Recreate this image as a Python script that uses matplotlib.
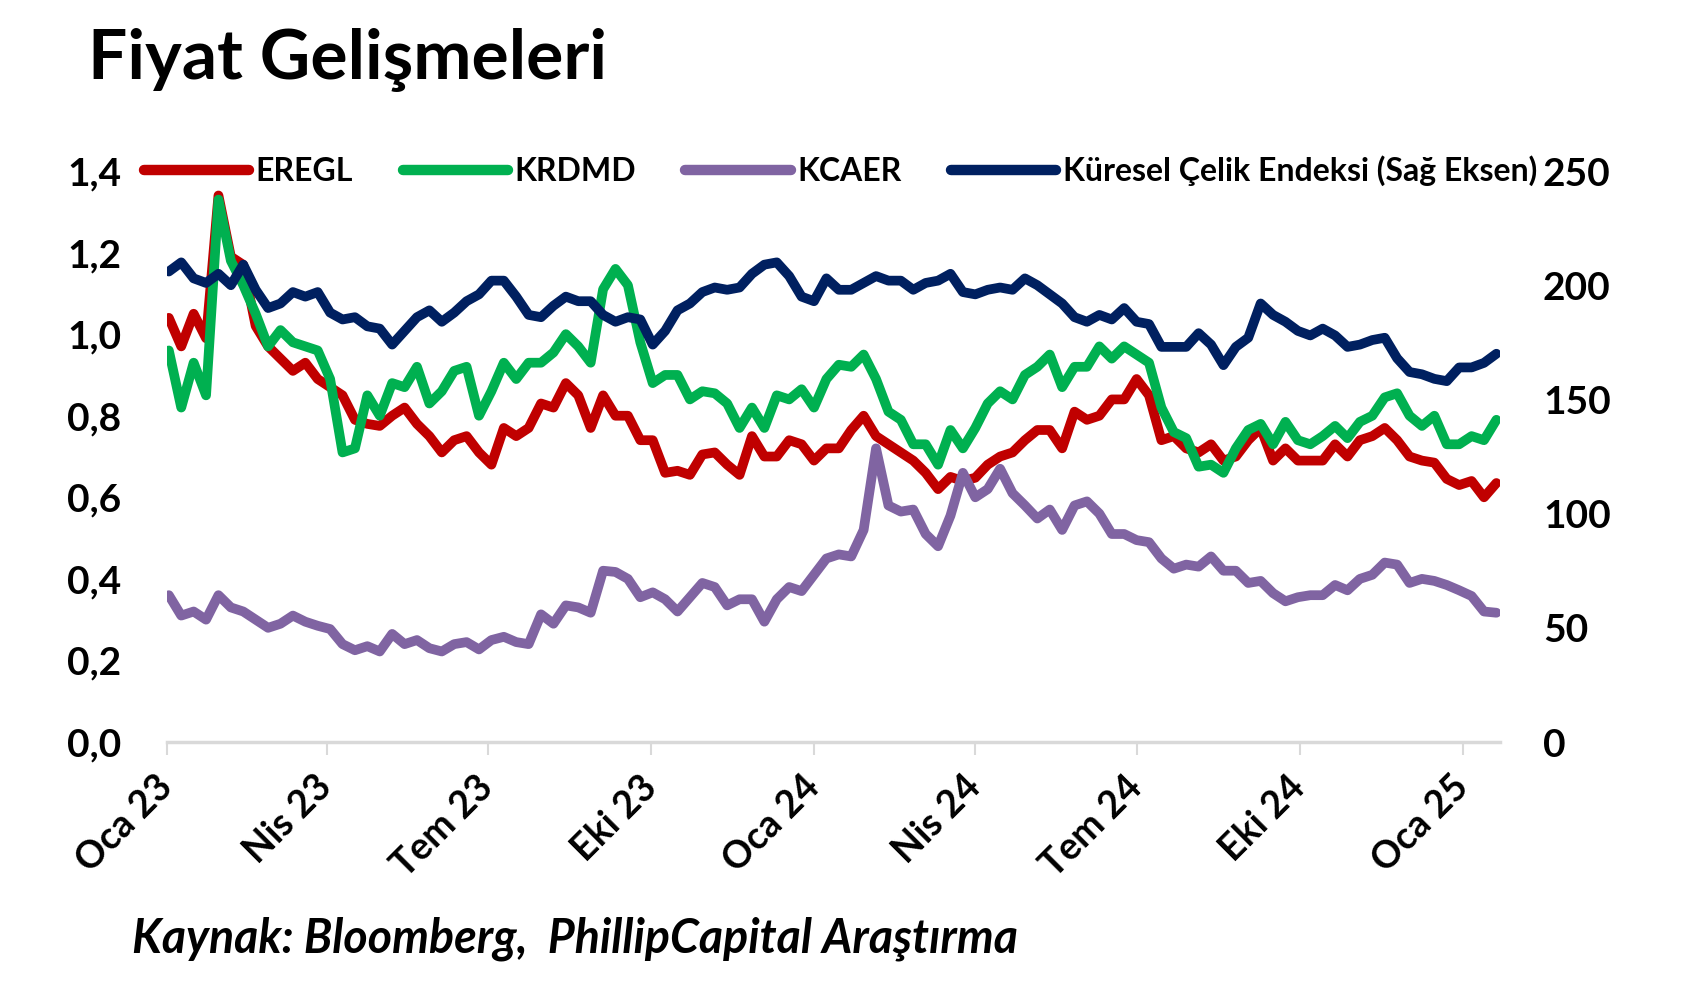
import numpy as np
import pandas as pd
import matplotlib
matplotlib.use('Agg')
import matplotlib.pyplot as plt

plt.rcParams['font.family'] = ['Lato', 'DejaVu Sans']

# weekly closes (left axis: stocks, right axis: steel index)
dates = pd.date_range('2023-01-02', periods=108, freq='7D')

eregl = [1.04, 0.97, 1.05, 0.99, 1.34, 1.19, 1.17, 1.02, 0.97, 0.94, 0.91, 0.93, 0.89, 0.87,
         0.85, 0.79, 0.78, 0.775, 0.80, 0.82, 0.78, 0.75, 0.71, 0.74, 0.75, 0.71, 0.68,
         0.77, 0.75, 0.77, 0.83, 0.82, 0.88, 0.85, 0.77, 0.85, 0.80, 0.80, 0.74, 0.74, 0.66,
         0.665, 0.655, 0.705, 0.71, 0.68, 0.655, 0.75, 0.70, 0.70, 0.74, 0.73, 0.69, 0.72,
         0.72, 0.765, 0.80, 0.75, 0.73, 0.71, 0.69, 0.66, 0.62, 0.65, 0.64, 0.648, 0.68,
         0.70, 0.71, 0.74, 0.765, 0.765, 0.72, 0.81, 0.79, 0.80, 0.84, 0.84, 0.89, 0.85,
         0.74, 0.75, 0.72, 0.71, 0.73, 0.69, 0.70, 0.74, 0.77, 0.69, 0.72, 0.69, 0.69, 0.69,
         0.73, 0.70, 0.74, 0.75, 0.77, 0.74, 0.70, 0.69, 0.685, 0.645, 0.63, 0.64, 0.60, 0.635]

krdmd = [0.96, 0.82, 0.93, 0.85, 1.33, 1.18, 1.12, 1.05, 0.97, 1.01, 0.98, 0.97, 0.96, 0.89,
         0.71, 0.72, 0.85, 0.80, 0.88, 0.87, 0.92, 0.83, 0.86, 0.91, 0.92, 0.80, 0.86,
         0.93, 0.89, 0.93, 0.93, 0.955, 1.00, 0.97, 0.93, 1.11, 1.16, 1.12, 0.98, 0.88, 0.90,
         0.90, 0.84, 0.86, 0.855, 0.83, 0.77, 0.82, 0.77, 0.85, 0.84, 0.865, 0.82, 0.89,
         0.925, 0.92, 0.95, 0.89, 0.81, 0.79, 0.73, 0.73, 0.68, 0.765, 0.72, 0.77, 0.83,
         0.86, 0.84, 0.90, 0.92, 0.95, 0.87, 0.92, 0.92, 0.97, 0.94, 0.97, 0.95, 0.93,
         0.82, 0.76, 0.745, 0.675, 0.68, 0.66, 0.72, 0.765, 0.78, 0.73, 0.785, 0.74, 0.73,
         0.75, 0.775, 0.745, 0.785, 0.80, 0.845, 0.855, 0.80, 0.775, 0.80, 0.73, 0.73, 0.75,
         0.74, 0.79]

kcaer = [0.36, 0.31, 0.32, 0.30, 0.36, 0.33, 0.32, 0.30, 0.28, 0.29, 0.31, 0.295, 0.285,
         0.277, 0.24, 0.225, 0.235, 0.222, 0.265, 0.24, 0.25, 0.23, 0.222, 0.24, 0.245, 0.227,
         0.25, 0.258, 0.245, 0.24, 0.313, 0.29, 0.335, 0.33, 0.317, 0.42, 0.417, 0.40, 0.355,
         0.367, 0.35, 0.32, 0.355, 0.39, 0.38, 0.335, 0.35, 0.35, 0.295, 0.35, 0.38, 0.37,
         0.41, 0.45, 0.46, 0.455, 0.52, 0.72, 0.58, 0.565, 0.57, 0.51, 0.48, 0.555, 0.66,
         0.60, 0.62, 0.67, 0.61, 0.58, 0.548, 0.57, 0.52, 0.58, 0.59, 0.56, 0.51, 0.51, 0.495,
         0.49, 0.45, 0.425, 0.435, 0.43, 0.455, 0.42, 0.42, 0.39, 0.395, 0.365, 0.345, 0.355,
         0.36, 0.36, 0.385, 0.372, 0.40, 0.41, 0.44, 0.435, 0.39, 0.40, 0.395, 0.385, 0.372,
         0.358, 0.32, 0.317]

celik = [206, 210, 203, 201, 205, 200, 209, 198, 190, 192, 197, 195, 197, 188, 185, 186,
         182, 181, 174, 180, 186, 189, 184, 188, 193, 196, 202,
         202, 195, 187, 186, 191, 195, 193, 193, 187, 184, 186, 185, 174, 180, 189, 192, 197,
         199, 198, 199, 205, 209, 210, 204, 195, 193, 203,
         198, 198, 201, 204, 202, 202, 198, 201, 202, 205, 197, 196, 198, 199, 198, 203, 200,
         196, 192, 186, 184, 187, 185, 190, 184, 183,
         173, 173, 173, 179, 174, 165, 173, 177, 192, 187, 184, 180, 178, 181, 178, 173, 174,
         176, 177, 168, 162, 161, 159, 158, 164, 164, 166, 170]

tick_dates = ['2023-01-01', '2023-04-01', '2023-07-01', '2023-10-01', '2024-01-01',
              '2024-04-01', '2024-07-01', '2024-10-01', '2025-01-01']
tick_labels = ['Oca 23', 'Nis 23', 'Tem 23', 'Eki 23', 'Oca 24', 'Nis 24', 'Tem 24',
               'Eki 24', 'Oca 25']
left_ticks = [0.0, 0.2, 0.4, 0.6, 0.8, 1.0, 1.2, 1.4]
right_ticks = [0, 50, 100, 150, 200, 250]

fig = plt.figure(figsize=(16.96, 9.96), dpi=100)
ax = fig.add_axes([0.0985, 0.255, 0.7859, 0.5733])
ax2 = ax.twinx()

kw = dict(lw=7, solid_joinstyle='round', solid_capstyle='round')
l1, = ax.plot(dates, eregl, color='#C00000', label='EREGL', **kw)
l2, = ax.plot(dates, krdmd, color='#00B050', label='KRDMD', **kw)
l3, = ax.plot(dates, kcaer, color='#8064A2', label='KCAER', **kw)
l4, = ax2.plot(dates, celik, color='#002060', label='Küresel Çelik Endeksi (Sağ Eksen)', **kw)

ax.set_xlim(pd.Timestamp('2023-01-01'), pd.Timestamp('2025-01-22'))
ax.set_ylim(0, 1.4)
ax2.set_ylim(0, 250)

ax.set_xticks(pd.to_datetime(tick_dates))
ax.set_xticklabels(tick_labels, rotation=45, ha='right', va='center',
                   rotation_mode='anchor', fontsize=27, fontweight='bold')
ax.tick_params(axis='x', length=9.5, width=1.5, color='#d9d9d9', pad=19)

ax.set_yticks(left_ticks)
ax.set_yticklabels([f'{v:.1f}'.replace('.', ',') for v in left_ticks],
                   fontsize=28, fontweight='bold')
ax.tick_params(axis='y', length=0, pad=33)
ax2.set_yticks(right_ticks)
ax2.set_yticklabels([str(v) for v in right_ticks], fontsize=28, fontweight='bold')
ax2.tick_params(axis='y', length=0, pad=31)

for a in (ax, ax2):
    for s in ('top', 'left', 'right', 'bottom'):
        a.spines[s].set_visible(False)
ax.spines['bottom'].set_visible(True)
ax.spines['bottom'].set_color('#d9d9d9')
ax.spines['bottom'].set_linewidth(2.5)

leg = fig.legend(handles=[l1, l2, l3, l4], loc='center left', bbox_to_anchor=(0.0848, 0.8283),
                 ncol=4, frameon=False, handlelength=3.3, handletextpad=0.2,
                 columnspacing=1.55, borderaxespad=0, borderpad=0,
                 prop={'size': 23, 'weight': 'bold'})
for h in leg.get_lines():
    h.set_linewidth(7.5)
    h.set_solid_capstyle('round')

fig.text(0.052, 0.9207, 'Fiyat Gelişmeleri', fontsize=50, fontweight='bold', va='baseline')
fig.text(0.078, 0.044, 'Kaynak: Bloomberg,  PhillipCapital Araştırma', fontsize=33.5,
         fontweight='bold', style='italic', va='baseline')

fig.savefig('out.png', dpi=100)
